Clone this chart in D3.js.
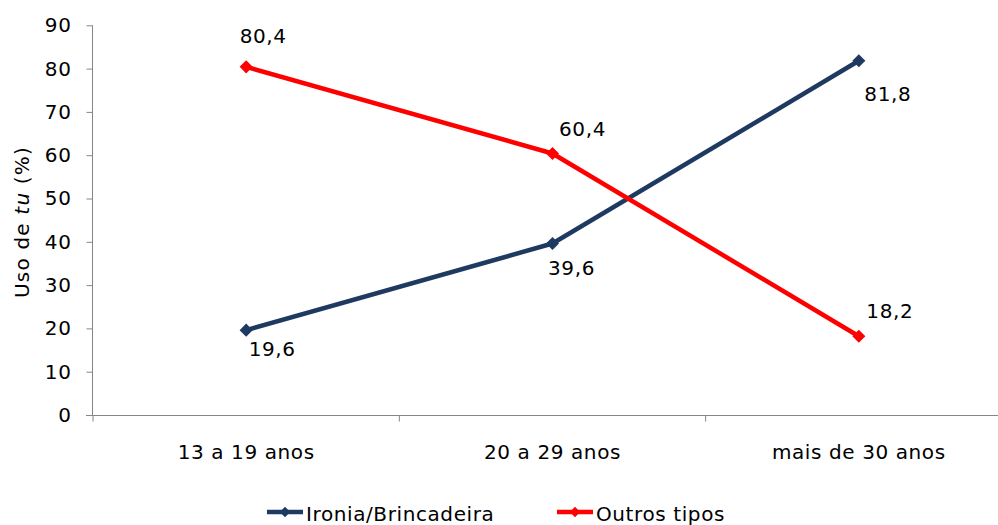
<!DOCTYPE html>
<html>
<head>
<meta charset="utf-8">
<script src="https://cdn.jsdelivr.net/npm/d3@7"></script>
<style>
  html, body { margin: 0; padding: 0; background: #fff; }
  svg { display: block; font-family: "DejaVu Sans", Verdana, sans-serif; }
  svg text { letter-spacing: 0.6px; }
</style>
</head>
<body>
<svg id="chart" width="998" height="525"></svg>
<script>
// Age groups and share of "tu" usage (%) by type
const categories = ["13 a 19 anos", "20 a 29 anos", "mais de 30 anos"];
const ironiaValues = [19.6, 39.6, 81.8];
const outrosValues = [80.4, 60.4, 18.2];
const seriesNames = ["Ironia/Brincadeira", "Outros tipos"];
const yTicks = [0, 10, 20, 30, 40, 50, 60, 70, 80, 90];

// Label offsets (px) relative to each marker: [dx, dy of baseline]
const ironiaLabelOffsets = [[26, 26], [19, 31], [29, 40]];
const outrosLabelOffsets = [[17, -24], [30, -17], [31, -18]];

const colors = { ironia: "#1F3A60", outros: "#FF0000", axis: "#868686" };

const svg = d3.select("#chart");
const plot = { left: 93, right: 1012, top: 25, bottom: 415 };

const x = d3.scaleBand().domain(categories).range([plot.left, plot.right]);
const y = d3.scaleLinear().domain([0, 90]).range([plot.bottom, plot.bottom - 389.7]);
const cx = c => x(c) + x.bandwidth() / 2;

// Y axis
const yAxis = d3.axisLeft(y).tickValues(yTicks).tickSize(6).tickPadding(15).tickFormat(d3.format("d"));
const gy = svg.append("g").attr("transform", `translate(${plot.left - 0.5},0)`).call(yAxis);
gy.select(".domain").attr("stroke", colors.axis).attr("d", `M-0,${y(90)}V${plot.bottom}`);
gy.selectAll(".tick line").attr("stroke", colors.axis);
gy.selectAll(".tick text").attr("fill", "#000").style("font-size", "20px")
  .style("font-family", '"DejaVu Sans", Verdana, sans-serif');

// X axis with boundary ticks between categories
const gx = svg.append("g").attr("transform", `translate(0,${plot.bottom + 0.5})`);
gx.append("line").attr("x1", plot.left - 7).attr("x2", plot.right)
  .attr("stroke", colors.axis);
const boundaries = categories.map(c => x(c)).concat([x(categories[categories.length - 1]) + x.bandwidth()]);
gx.selectAll("line.tk").data(boundaries).join("line").attr("class", "tk")
  .attr("x1", d => d).attr("x2", d => d).attr("y1", 0).attr("y2", 6)
  .attr("stroke", colors.axis);
gx.selectAll("text").data(categories).join("text")
  .attr("x", d => cx(d)).attr("y", 43)
  .attr("text-anchor", "middle").style("font-size", "20px").attr("fill", "#000")
  .text(d => d);

// Y axis title
const ttl = svg.append("text")
  .attr("transform", `translate(29,222) rotate(-90)`)
  .attr("text-anchor", "middle").style("font-size", "20px").attr("fill", "#000")
  .style("letter-spacing", "1.2px");
ttl.append("tspan").text("Uso de ");
ttl.append("tspan").attr("font-style", "italic").text("tu");
ttl.append("tspan").text(" (%)");

// Diamond marker: a square turned by 45 degrees
const marker = d3.symbol().type(d3.symbolSquare).size(85);

function drawSeries(values, color, offsets) {
  const pts = categories.map((c, i) => [cx(c), y(values[i])]);
  svg.append("path").datum(pts)
    .attr("d", d3.line())
    .attr("fill", "none").attr("stroke", color)
    .attr("stroke-width", 4.5).attr("stroke-linejoin", "round");
  svg.selectAll(null).data(pts).join("path")
    .attr("transform", d => `translate(${d[0]},${d[1]}) rotate(45)`)
    .attr("d", marker).attr("fill", color);
  svg.selectAll(null).data(values).join("text")
    .attr("x", (d, i) => pts[i][0] + offsets[i][0])
    .attr("y", (d, i) => pts[i][1] + offsets[i][1])
    .attr("text-anchor", "middle").style("font-size", "20px").attr("fill", "#000")
    .text(d => d3.format(".1f")(d).replace(".", ","));
}

drawSeries(ironiaValues, colors.ironia, ironiaLabelOffsets);
drawSeries(outrosValues, colors.outros, outrosLabelOffsets);

// Legend
const legend = [
  { name: seriesNames[0], color: colors.ironia, x: 267 },
  { name: seriesNames[1], color: colors.outros, x: 557 }
];
const lg = svg.selectAll("g.legend").data(legend).join("g")
  .attr("class", "legend").attr("transform", d => `translate(${d.x},512)`);
lg.append("line").attr("x1", 0).attr("x2", 36).attr("y1", 0).attr("y2", 0)
  .attr("stroke", d => d.color).attr("stroke-width", 4.5);
lg.append("path").attr("transform", "translate(18,0) rotate(45)")
  .attr("d", d3.symbol().type(d3.symbolSquare).size(55)).attr("fill", d => d.color);
lg.append("text").attr("x", 39).attr("y", 9).style("font-size", "20px").attr("fill", "#000")
  .text(d => d.name);
</script>
</body>
</html>
